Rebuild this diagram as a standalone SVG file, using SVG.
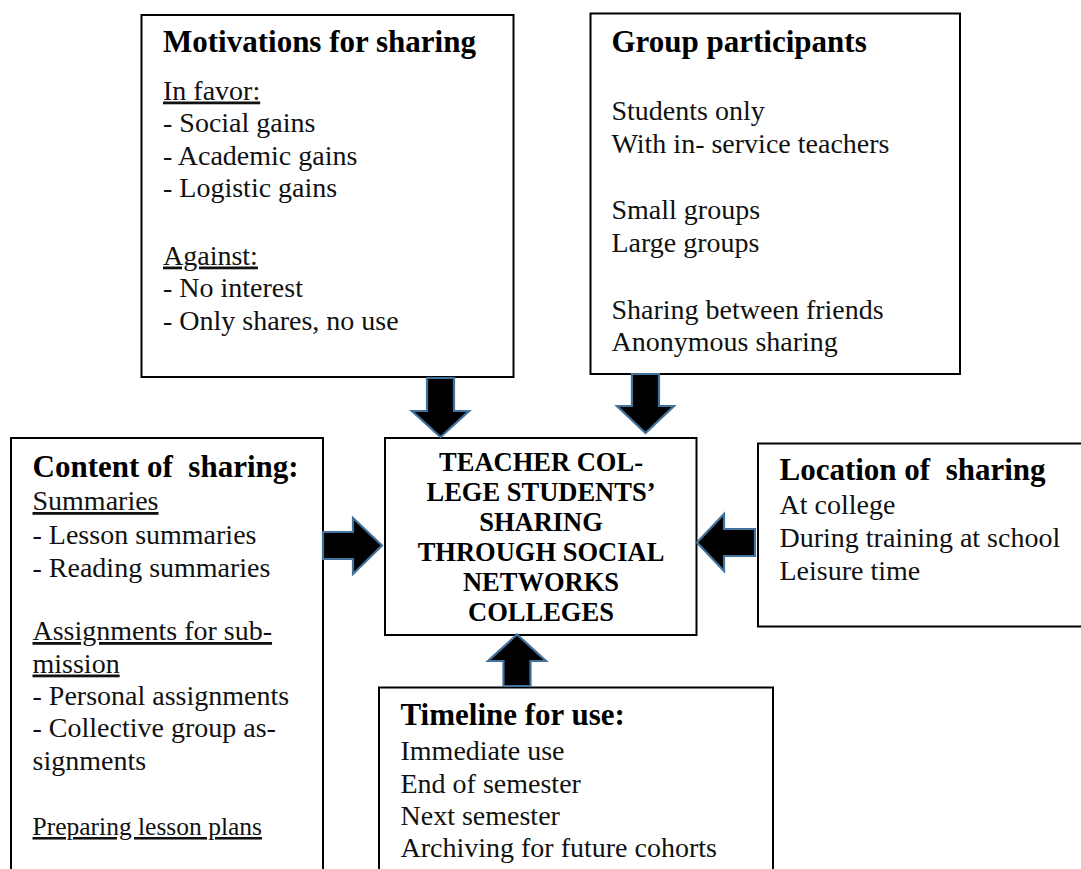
<svg xmlns="http://www.w3.org/2000/svg" width="1081" height="869" viewBox="0 0 1081 869">
<style>
.box{fill:#fff;stroke:#000;stroke-width:2}
.t{font-family:"Liberation Serif","Times New Roman",serif;font-size:28px;fill:#111}
.h{font-family:"Liberation Serif","Times New Roman",serif;font-size:31px;font-weight:bold;fill:#000}
.c{font-family:"Liberation Serif","Times New Roman",serif;font-size:26.5px;font-weight:bold;fill:#000;text-anchor:middle}
.u{text-decoration:underline}
.arr{fill:#000;stroke:#41719C;stroke-width:2.2;stroke-linejoin:miter}
</style>
<rect width="1081" height="869" fill="#fff"/>
<g id="motivations">
<rect class="box" x="141.5" y="15" width="372" height="362"/>
<text class="h" x="163" y="51.5">Motivations for sharing</text>
<text class="t u" x="163" y="99.5">In favor:</text>
<text class="t" x="163" y="132">- Social gains</text>
<text class="t" x="163" y="164.5">- Academic gains</text>
<text class="t" x="163" y="197">- Logistic gains</text>
<text class="t u" x="163" y="264.5">Against:</text>
<text class="t" x="163" y="297">- No interest</text>
<text class="t" x="163" y="329.5">- Only shares, no use</text>
</g>
<g id="participants">
<rect class="box" x="590.5" y="13.5" width="369.5" height="360.5"/>
<text class="h" x="611.5" y="51.5">Group participants</text>
<text class="t" x="611.5" y="120">Students only</text>
<text class="t" x="611.5" y="153">With in- service teachers</text>
<text class="t" x="611.5" y="218.5">Small groups</text>
<text class="t" x="611.5" y="251.5">Large groups</text>
<text class="t" x="611.5" y="318.5">Sharing between friends</text>
<text class="t" x="611.5" y="351">Anonymous sharing</text>
</g>
<g id="content">
<rect class="box" x="11" y="438" width="312" height="440"/>
<text class="h" x="32.5" y="476.5" xml:space="preserve">Content of  sharing:</text>
<text class="t u" x="32.5" y="510">Summaries</text>
<text class="t" x="32.5" y="544">- Lesson summaries</text>
<text class="t" x="32.5" y="576.5">- Reading summaries</text>
<text class="t u" x="32.5" y="640">Assignments for sub-</text>
<text class="t u" x="32.5" y="672.5">mission</text>
<text class="t" x="32.5" y="705">- Personal assignments</text>
<text class="t" x="32.5" y="737">- Collective group as-</text>
<text class="t" x="32.5" y="770">signments</text>
<text class="t u" x="32.5" y="835" style="font-size:25.5px">Preparing lesson plans</text>
</g>
<g id="center">
<rect class="box" x="385" y="438" width="311.5" height="197"/>
<text class="c" x="541" y="470.5">TEACHER COL-</text>
<text class="c" x="541" y="500.5">LEGE STUDENTS’</text>
<text class="c" x="541" y="531">SHARING</text>
<text class="c" x="541" y="561">THROUGH SOCIAL</text>
<text class="c" x="541" y="591">NETWORKS</text>
<text class="c" x="541" y="620.5">COLLEGES</text>
</g>
<g id="location">
<rect class="box" x="758" y="443.5" width="330" height="183"/>
<text class="h" x="779.5" y="480" xml:space="preserve">Location of  sharing</text>
<text class="t" x="779.5" y="513.5">At college</text>
<text class="t" x="779.5" y="546.5">During training at school</text>
<text class="t" x="779.5" y="580">Leisure time</text>
</g>
<g id="timeline">
<rect class="box" x="379" y="687.5" width="394" height="190"/>
<text class="h" x="400.5" y="725">Timeline for use:</text>
<text class="t" x="400.5" y="760">Immediate use</text>
<text class="t" x="400.5" y="793">End of semester</text>
<text class="t" x="400.5" y="825">Next semester</text>
<text class="t" x="400.5" y="857">Archiving for future cohorts</text>
</g>
<g id="connectors">
<polygon class="arr" points="427,378 454,378 454,411 469,411 440.5,437 412,411 427,411"/>
<polygon class="arr" points="632,374 659,374 659,406 674,406 645.5,433 617,406 632,406"/>
<polygon class="arr" points="323,532 353,532 353,518 382,545.5 353,574 353,559 323,559"/>
<polygon class="arr" points="755,529 724,529 724,514 697,542.5 724,571 724,556 755,556"/>
<polygon class="arr" points="503.5,686 503.5,661 488,661 517,634.5 546,661 530.5,661 530.5,686"/>
</g>
</svg>
